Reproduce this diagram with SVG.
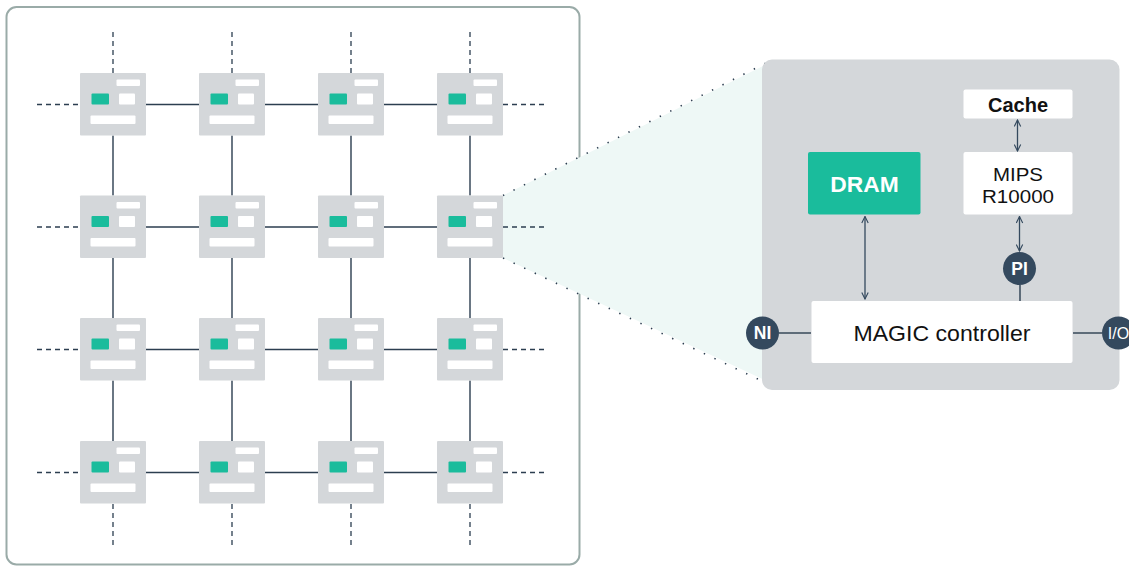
<svg xmlns="http://www.w3.org/2000/svg" width="1129" height="567" viewBox="0 0 1129 567">
<style>
.tile{fill:#d4d7da}
.w{fill:#ffffff}
.g{fill:#1abc9c}
.ln{stroke:#2c3e50;stroke-width:1.4;fill:none}
.dash{stroke:#2c3e50;stroke-width:1.3;stroke-dasharray:5 4;fill:none}
.dot{stroke:#2c3e50;stroke-width:1.6;stroke-dasharray:1.4 10.3;fill:none}
.box{fill:#ffffff}
.t{font-family:"Liberation Sans",Arial,sans-serif;fill:#111;text-anchor:middle}
.circ{fill:#34495e}
.ct{font-family:"Liberation Sans",Arial,sans-serif;fill:#fff;font-weight:bold;text-anchor:middle;font-size:17.5px}
.arr{stroke:#34495e;stroke-width:1.3;fill:none;marker-start:url(#ah);marker-end:url(#ah)}
</style>
<defs>
<marker id="ah" viewBox="0 0 10 10" refX="9" refY="5" markerWidth="8" markerHeight="8" markerUnits="userSpaceOnUse" orient="auto-start-reverse">
<path d="M1,1 L9,5 L1,9" fill="none" stroke="#34495e" stroke-width="1.4"/>
</marker>
<g id="tileShape">
<rect class="tile" x="0" y="0" width="66" height="62.5" rx="1"/>
<rect class="w" x="36.5" y="6.5" width="23.5" height="6.5" rx="1"/>
<rect class="g" x="11.5" y="20.5" width="17.5" height="11" rx="1"/>
<rect class="w" x="39" y="20.5" width="16" height="11" rx="1"/>
<rect class="w" x="10.5" y="42.5" width="45" height="8.5" rx="1"/>
</g>
</defs>
<rect id="frame" x="6.5" y="7" width="573" height="557.5" rx="10" fill="#fff" stroke="#9aaba8" stroke-width="2"/>
<polygon id="zoom" points="503,195.5 775,60 775,385 503,258" fill="#eef8f6"/>
<g id="connectors">
<path class="dot" d="M503,195.5 L768,62"/>
<path class="dot" d="M503,258 L762,381"/>
<path class="ln" d="M146,104.5H199M265,104.5H318M384,104.5H437"/>
<path class="ln" d="M146,227H199M265,227H318M384,227H437"/>
<path class="ln" d="M146,349.5H199M265,349.5H318M384,349.5H437"/>
<path class="ln" d="M146,472.5H199M265,472.5H318M384,472.5H437"/>
<path class="ln" d="M113,135.5V195.5M113,258V318M113,380.5V441"/>
<path class="ln" d="M232,135.5V195.5M232,258V318M232,380.5V441"/>
<path class="ln" d="M351,135.5V195.5M351,258V318M351,380.5V441"/>
<path class="ln" d="M470,135.5V195.5M470,258V318M470,380.5V441"/>
<path class="dash" d="M113,32V73M232,32V73M351,32V73M470,32V73"/>
<path class="dash" d="M113,504V545M232,504V545M351,504V545M470,504V545"/>
<path class="dash" d="M37,104.5H80M37,227H80M37,349.5H80M37,472.5H80"/>
<path class="dash" d="M503,104.5H544M503,227H544M503,349.5H544M503,472.5H544"/>
</g>
<g id="tiles">
<use href="#tileShape" x="80" y="73"/><use href="#tileShape" x="199" y="73"/><use href="#tileShape" x="318" y="73"/><use href="#tileShape" x="437" y="73"/>
<use href="#tileShape" x="80" y="195.5"/><use href="#tileShape" x="199" y="195.5"/><use href="#tileShape" x="318" y="195.5"/><use href="#tileShape" x="437" y="195.5"/>
<use href="#tileShape" x="80" y="318"/><use href="#tileShape" x="199" y="318"/><use href="#tileShape" x="318" y="318"/><use href="#tileShape" x="437" y="318"/>
<use href="#tileShape" x="80" y="441"/><use href="#tileShape" x="199" y="441"/><use href="#tileShape" x="318" y="441"/><use href="#tileShape" x="437" y="441"/>
</g>
<rect id="panel" x="762" y="59.5" width="357.5" height="330.5" rx="10" fill="#d4d7da"/>
<g id="panel-connectors">
<path class="arr" d="M1017.5,120V151"/>
<path class="arr" d="M865,216.5V299"/>
<path class="arr" d="M1019.5,216.5V251"/>
<path class="ln" d="M1020,285V301"/>
<path class="ln" d="M779,333H811"/>
<path class="ln" d="M1073,333H1102"/>
</g>
<g id="cache"><rect class="box" x="963.5" y="89.5" width="109" height="29" rx="2"/><text class="t" x="1018" y="112" font-size="20" font-weight="bold">Cache</text></g>
<g id="mips"><rect class="box" x="963.5" y="152" width="109" height="62.5" rx="2"/><text class="t" x="1018" y="181.3" font-size="18.5" textLength="50" lengthAdjust="spacingAndGlyphs">MIPS</text><text class="t" x="1018" y="202.7" font-size="18.5" textLength="72" lengthAdjust="spacingAndGlyphs">R10000</text></g>
<g id="dram"><rect class="g" x="808" y="152" width="112.5" height="62.5" rx="2"/><text class="t" x="864.5" y="192" font-size="22.8" font-weight="bold" style="fill:#fff">DRAM</text></g>
<g id="magic"><rect class="box" x="811.5" y="301" width="261" height="62" rx="2"/><text class="t" x="942" y="340.5" font-size="22.5" textLength="177" lengthAdjust="spacingAndGlyphs">MAGIC controller</text></g>
<g id="pi"><circle class="circ" cx="1019.5" cy="268.5" r="16.5"/><text class="ct" x="1019.5" y="274.8">PI</text></g>
<g id="ni"><circle class="circ" cx="762.5" cy="333" r="16.5"/><text class="ct" x="762.5" y="339.3">NI</text></g>
<g id="io"><circle class="circ" cx="1118.5" cy="333" r="16.5"/><text class="ct" x="1118.5" y="339" style="font-weight:normal;font-size:16px">I/O</text></g>
</svg>
